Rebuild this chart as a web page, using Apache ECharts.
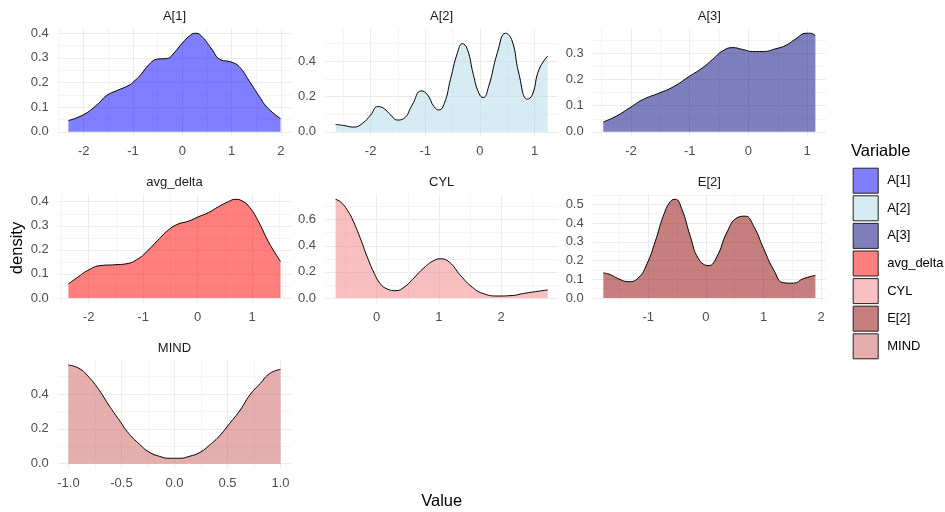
<!DOCTYPE html>
<html><head><meta charset="utf-8">
<script src="https://cdn.jsdelivr.net/npm/echarts@6/dist/echarts.min.js"></script>
<style>html,body{margin:0;padding:0;background:#fff}#c{width:945px;height:512px}</style>
</head><body><div id="c"></div>
<script>
// ---- data ----
const panelNames = ['A[1]', 'A[2]', 'A[3]', 'avg_delta', 'CYL', 'E[2]', 'MIND'];
const fillColors = ['rgba(0,0,255,0.5)', 'rgba(173,216,230,0.5)', 'rgba(0,0,128,0.5)', 'rgba(255,0,0,0.5)', 'rgba(240,128,128,0.5)', 'rgba(139,0,0,0.5)', 'rgba(205,92,92,0.5)'];

const a1X = [-2.31, -2.0, -1.73, -1.53, -1.32, -1.08, -0.98, -0.85, -0.68, -0.51, -0.3, -0.17, 0, 0.17, 0.27, 0.41, 0.58, 0.78, 0.98, 1.15, 1.36, 1.56, 1.73, 1.99];
const a1Y = [0.046, 0.07, 0.11, 0.148, 0.168, 0.189, 0.205, 0.23, 0.272, 0.295, 0.298, 0.32, 0.36, 0.393, 0.40, 0.384, 0.34, 0.292, 0.284, 0.265, 0.205, 0.144, 0.097, 0.054];

const a2X = [-2.64, -2.49, -2.31, -2.15, -2.0, -1.87, -1.76, -1.63, -1.51, -1.39, -1.24, -1.07, -0.96, -0.84, -0.75, -0.65, -0.54, -0.41, -0.32, -0.23, -0.12, -0.02, 0.06, 0.16, 0.32, 0.47, 0.59, 0.71, 0.87, 0.96, 1.08, 1.24];
const a2Y = [0.042, 0.036, 0.027, 0.048, 0.095, 0.143, 0.133, 0.095, 0.067, 0.076, 0.152, 0.232, 0.21, 0.143, 0.124, 0.162, 0.295, 0.448, 0.499, 0.467, 0.324, 0.219, 0.194, 0.257, 0.448, 0.558, 0.514, 0.333, 0.185, 0.21, 0.352, 0.429];

const a3X = [-2.47, -2.25, -2.02, -1.79, -1.51, -1.28, -1.0, -0.78, -0.61, -0.44, -0.27, -0.1, 0.07, 0.24, 0.47, 0.64, 0.81, 0.98, 1.06, 1.14];
const a3Y = [0.038, 0.06, 0.092, 0.124, 0.149, 0.172, 0.213, 0.245, 0.277, 0.309, 0.322, 0.315, 0.307, 0.307, 0.318, 0.331, 0.356, 0.377, 0.377, 0.367];

const avgX = [-2.37, -2.2, -2.02, -1.77, -1.52, -1.31, -1.09, -0.91, -0.73, -0.54, -0.36, -0.17, 0.01, 0.2, 0.38, 0.57, 0.69, 0.82, 0.96, 1.12, 1.3, 1.52];
const avgY = [0.059, 0.086, 0.114, 0.135, 0.138, 0.142, 0.163, 0.198, 0.24, 0.282, 0.307, 0.319, 0.337, 0.355, 0.379, 0.401, 0.41, 0.403, 0.375, 0.316, 0.233, 0.152];

const cylX = [-0.66, -0.58, -0.47, -0.37, -0.26, -0.15, -0.04, 0.06, 0.17, 0.31, 0.44, 0.6, 0.76, 0.92, 1.03, 1.17, 1.35, 1.54, 1.73, 1.95, 2.16, 2.38, 2.59, 2.75];
const cylY = [0.756, 0.736, 0.672, 0.582, 0.454, 0.313, 0.19, 0.108, 0.069, 0.056, 0.082, 0.154, 0.231, 0.287, 0.3, 0.274, 0.172, 0.082, 0.031, 0.015, 0.018, 0.036, 0.051, 0.062];

const e2X = [-1.78, -1.66, -1.52, -1.34, -1.17, -1.02, -0.88, -0.74, -0.62, -0.53, -0.42, -0.27, -0.13, 0.05, 0.19, 0.36, 0.54, 0.68, 0.83, 1.0, 1.18, 1.35, 1.52, 1.69, 1.9];
const e2Y = [0.134, 0.125, 0.103, 0.087, 0.108, 0.184, 0.301, 0.437, 0.514, 0.527, 0.477, 0.329, 0.211, 0.173, 0.22, 0.347, 0.428, 0.437, 0.383, 0.265, 0.148, 0.081, 0.079, 0.103, 0.121];

const mindX = [-1.0, -0.9, -0.81, -0.71, -0.62, -0.52, -0.43, -0.33, -0.24, -0.14, -0.05, 0.05, 0.14, 0.24, 0.33, 0.43, 0.52, 0.62, 0.71, 0.81, 0.9, 1.0];
const mindY = [0.567, 0.548, 0.5, 0.423, 0.337, 0.25, 0.173, 0.112, 0.067, 0.042, 0.031, 0.031, 0.042, 0.065, 0.106, 0.163, 0.231, 0.308, 0.394, 0.462, 0.519, 0.542];

// tick labels
const a1XTicks = ['-2', '-1', '0', '1', '2'];         const a1YTicks = ['0.0', '0.1', '0.2', '0.3', '0.4'];
const a2XTicks = ['-2', '-1', '0', '1'];              const a2YTicks = ['0.0', '0.2', '0.4'];
const a3XTicks = ['-2', '-1', '0', '1'];              const a3YTicks = ['0.0', '0.1', '0.2', '0.3'];
const avgXTicks = ['-2', '-1', '0', '1'];             const avgYTicks = ['0.0', '0.1', '0.2', '0.3', '0.4'];
const cylXTicks = ['0', '1', '2'];                    const cylYTicks = ['0.0', '0.2', '0.4', '0.6'];
const e2XTicks = ['-1', '0', '1', '2'];               const e2YTicks = ['0.0', '0.1', '0.2', '0.3', '0.4', '0.5'];
const mindXTicks = ['-1.0', '-0.5', '0.0', '0.5', '1.0']; const mindYTicks = ['0.0', '0.2', '0.4'];

const xsList = [a1X, a2X, a3X, avgX, cylX, e2X, mindX];
const ysList = [a1Y, a2Y, a3Y, avgY, cylY, e2Y, mindY];
const xTickList = [a1XTicks, a2XTicks, a3XTicks, avgXTicks, cylXTicks, e2XTicks, mindXTicks];
const yTickList = [a1YTicks, a2YTicks, a3YTicks, avgYTicks, cylYTicks, e2YTicks, mindYTicks];

// ---- layout ----
const colLeft = [57.8, 325, 592.7];
const rowTop = [28.3, 194.4, 360.1];
const panelW = 233.3, panelH = 108.5;
const FONT = '"Liberation Sans", Arial, sans-serif';
const MAJOR = '#EBEBEB', MINOR = '#F4F4F4';

function gridTicks(labels, lo, hi) {
  const majors = labels.map(Number);
  const step = majors.length > 1 ? majors[1] - majors[0] : 1;
  const vals = [];
  for (let k = -6; k <= 2 * (majors.length + 6); k++) {
    const v = +(majors[0] + (k * step) / 2).toFixed(6);
    if (v >= lo - 1e-9 && v <= hi + 1e-9) vals.push(v);
  }
  const colors = vals.map(v => majors.some(m => Math.abs(m - v) < 1e-6) ? MAJOR : MINOR);
  return { vals, colors, majors };
}

const grids = [], xAxes = [], yAxes = [], series = [], graphics = [];
panelNames.forEach((name, i) => {
  const col = i % 3, row = Math.floor(i / 3);
  const xs = xsList[i], ys = ysList[i];
  const xr = xs[xs.length - 1] - xs[0];
  const xmin = xs[0] - 0.05 * xr, xmax = xs[xs.length - 1] + 0.05 * xr;
  const M = Math.max(...ys);
  const ymin = -0.05 * M, ymax = 1.05 * M;
  grids.push({ left: colLeft[col], top: rowTop[row], width: panelW, height: panelH, containLabel: false });
  const gx = gridTicks(xTickList[i], xmin, xmax);
  const gy = gridTicks(yTickList[i], ymin, ymax);
  const xl = xTickList[i], yl = yTickList[i];
  xAxes.push({
    type: 'value', gridIndex: i, min: xmin, max: xmax,
    axisLine: { show: false }, axisTick: { show: false, customValues: gx.vals },
    splitLine: { show: true, lineStyle: { color: gx.colors, width: 1 } },
    axisLabel: {
      customValues: gx.majors, margin: 8, fontSize: 13, color: '#4D4D4D', fontFamily: FONT,
      formatter: v => { const j = gx.majors.findIndex(m => Math.abs(m - v) < 1e-6); return j >= 0 ? xl[j] : ''; }
    }
  });
  yAxes.push({
    type: 'value', gridIndex: i, min: ymin, max: ymax,
    axisLine: { show: false }, axisTick: { show: false, customValues: gy.vals },
    splitLine: { show: true, lineStyle: { color: gy.colors, width: 1 } },
    axisLabel: {
      customValues: gy.majors, margin: 9, fontSize: 13, color: '#4D4D4D', fontFamily: FONT,
      formatter: v => { const j = gy.majors.findIndex(m => Math.abs(m - v) < 1e-6); return j >= 0 ? yl[j] : ''; }
    }
  });
  series.push({
    name, type: 'line', xAxisIndex: i, yAxisIndex: i,
    data: xs.map((x, k) => [x, ys[k]]),
    showSymbol: false, symbol: 'none', smooth: 0.5,
    lineStyle: { color: '#000', width: 1 },
    itemStyle: { color: fillColors[i] },
    areaStyle: { color: fillColors[i], opacity: 1 },
    silent: true
  });
  graphics.push({
    type: 'text', x: colLeft[col] + panelW / 2, y: rowTop[row] - 11.7,
    style: { text: name, fontSize: 13, fontFamily: FONT, fill: '#1A1A1A', textAlign: 'center', textVerticalAlign: 'middle' }
  });
});

graphics.push({
  type: 'text', x: 17.5, y: 248, rotation: Math.PI / 2,
  style: { text: 'density', fontSize: 16.5, fontFamily: FONT, fill: '#000', textAlign: 'center', textVerticalAlign: 'middle' }
});
graphics.push({
  type: 'text', x: 441.7, y: 501.7,
  style: { text: 'Value', fontSize: 16.5, fontFamily: FONT, fill: '#000', textAlign: 'center', textVerticalAlign: 'middle' }
});
graphics.push({
  type: 'text', x: 851, y: 151.7,
  style: { text: 'Variable', fontSize: 16.5, fontFamily: FONT, fill: '#000', textAlign: 'left', textVerticalAlign: 'middle' }
});

const chart = echarts.init(document.getElementById('c'), null, { renderer: 'canvas' });
chart.setOption({
  animation: false,
  backgroundColor: '#fff',
  grid: grids, xAxis: xAxes, yAxis: yAxes, series,
  legend: {
    orient: 'vertical', left: 852.7, top: 167.7, padding: 0,
    itemWidth: 25, itemHeight: 25, itemGap: 1.6, icon: 'rect',
    selectedMode: false,
    textStyle: { fontSize: 13, color: '#000', fontFamily: FONT, padding: [0, 0, 0, 4] },
    data: panelNames.map((n, i) => ({ name: n, itemStyle: { color: fillColors[i], borderColor: '#222', borderWidth: 1 } }))
  },
  graphic: graphics
});
</script></body></html>
